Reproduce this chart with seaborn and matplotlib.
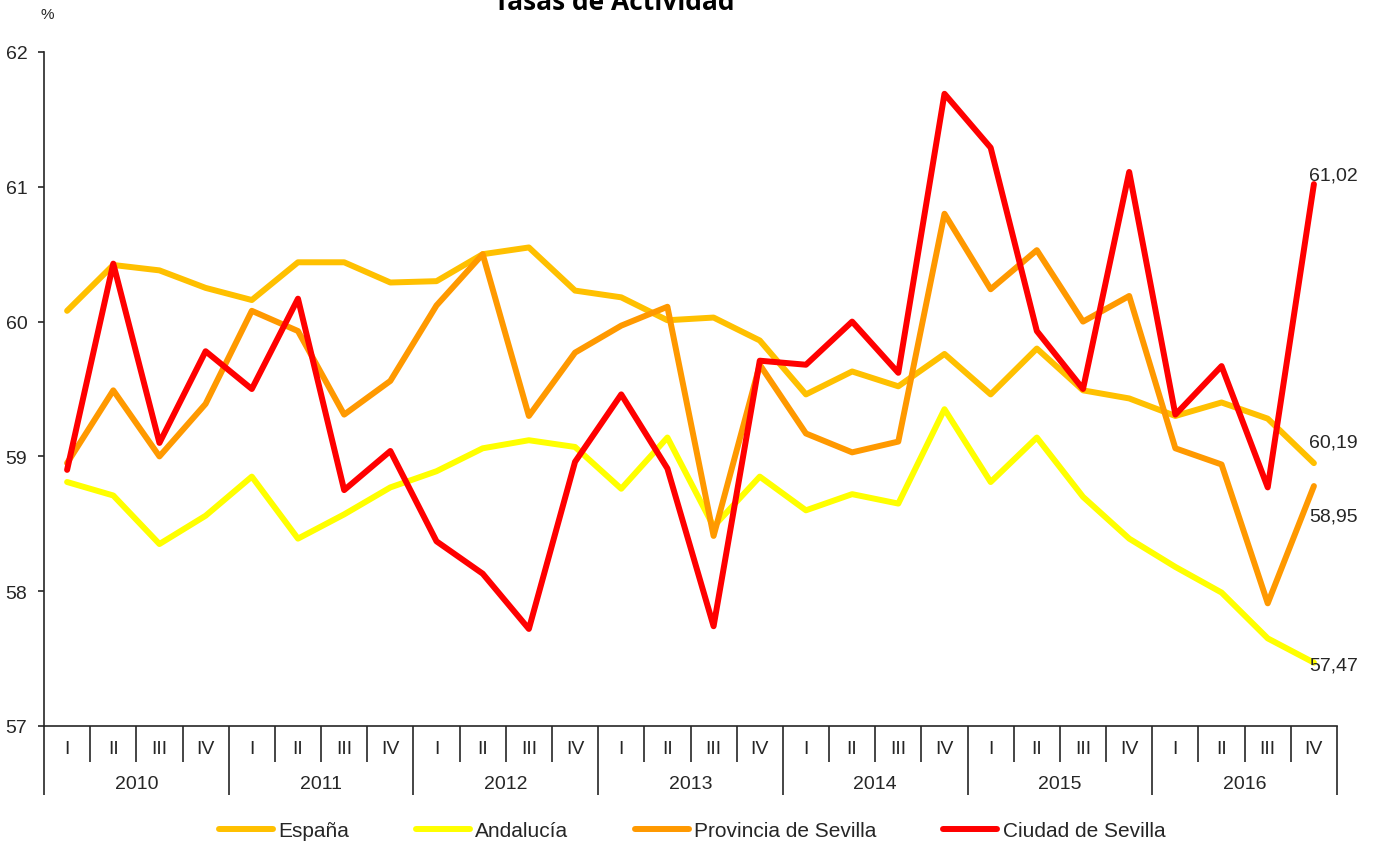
import numpy as np
import pandas as pd
import seaborn as sns
import matplotlib.pyplot as plt
from matplotlib.transforms import blended_transform_factory

# ─────────────────────────────────────────
# DATA
# ─────────────────────────────────────────
years    = ['2010', '2011', '2012', '2013', '2014', '2015', '2016']
quarters = ['I', 'II', 'III', 'IV']

espana = [60.08, 60.42, 60.38, 60.25, 60.16, 60.44, 60.44, 60.29,
          60.30, 60.50, 60.55, 60.23, 60.18, 60.01, 60.03, 59.86,
          59.46, 59.63, 59.52, 59.76, 59.46, 59.80, 59.49, 59.43,
          59.30, 59.40, 59.28, 58.95]
andalucia = [58.81, 58.71, 58.35, 58.56, 58.85, 58.39, 58.57, 58.77,
             58.89, 59.06, 59.12, 59.07, 58.76, 59.14, 58.48, 58.85,
             58.60, 58.72, 58.65, 59.35, 58.81, 59.14, 58.70, 58.39,
             58.18, 57.99, 57.65, 57.47]
provincia = [58.95, 59.49, 59.00, 59.39, 60.08, 59.93, 59.31, 59.56,
             60.12, 60.50, 59.30, 59.77, 59.97, 60.11, 58.41, 59.68,
             59.17, 59.03, 59.11, 60.80, 60.24, 60.53, 60.00, 60.19,
             59.06, 58.94, 57.91, 58.78]
ciudad = [58.90, 60.43, 59.10, 59.78, 59.50, 60.17, 58.75, 59.04,
          58.37, 58.13, 57.72, 58.96, 59.46, 58.91, 57.74, 59.71,
          59.68, 60.00, 59.62, 61.69, 61.29, 59.93, 59.50, 61.11,
          59.31, 59.67, 58.77, 61.02]

series_names = ['España', 'Andalucía', 'Provincia de Sevilla', 'Ciudad de Sevilla']
colors       = ['#FFC000', '#FFFF00', '#FF9900', '#FF0000']

end_labels   = ['61,02', '60,19', '58,95', '57,47']
end_label_y  = [61.09, 59.11, 58.56, 57.45]

# ─────────────────────────────────────────
# BUILD LONG TABLE
# ─────────────────────────────────────────
n = len(years) * len(quarters)
rows = []
for name, vals in zip(series_names, [espana, andalucia, provincia, ciudad]):
    for i, v in enumerate(vals):
        rows.append({'idx': i, 'valor': v, 'serie': name})
df = pd.DataFrame(rows)

# ─────────────────────────────────────────
# PLOT
# ─────────────────────────────────────────
sns.set_style('white')
plt.rcParams['font.family'] = ['Liberation Sans', 'DejaVu Sans']
txt = '#262626'

fig = plt.figure(figsize=(13.73, 8.45), dpi=100)
ax = fig.add_axes([44 / 1373, 1 - 727 / 845, 1293 / 1373, 674 / 845])

sns.lineplot(data=df, x='idx', y='valor', hue='serie', hue_order=series_names,
             palette=dict(zip(series_names, colors)), linewidth=4.3, ax=ax,
             legend=True)

ax.set_xlim(-0.5, n - 0.5)
ax.set_ylim(57, 62)
ax.set_yticks(range(57, 63))
ax.set_xlabel('')
ax.set_ylabel('')
for s in ['top', 'right']:
    ax.spines[s].set_visible(False)
for s in ['left', 'bottom']:
    ax.spines[s].set_color(txt)
    ax.spines[s].set_linewidth(1.2)

ax.tick_params(axis='y', direction='out', length=4, width=1.2, color=txt,
               labelsize=14, labelcolor=txt, pad=8, left=True)

# multi-level x axis: quarter separators (minor) and year separators (major)
ax.set_xticks(np.arange(-0.5, n, 4))
ax.set_xticks(np.arange(-0.5, n, 1), minor=True)
ax.set_xticklabels([])
ax.tick_params(axis='x', which='major', direction='out', length=50, width=1.2,
               color=txt, bottom=True)
ax.tick_params(axis='x', which='minor', direction='out', length=26, width=1.2,
               color=txt, bottom=True)

trans = blended_transform_factory(ax.transData, fig.transFigure)
for i in range(n):
    ax.text(i, 1 - 750 / 845, quarters[i % 4], transform=trans, ha='center',
            va='center', fontsize=14, color=txt)
for j, y in enumerate(years):
    ax.text(4 * j + 1.5, 1 - 785 / 845, y, transform=trans, ha='center',
            va='center', fontsize=14, color=txt)

# end-of-series value labels
for lab, yv in zip(end_labels, end_label_y):
    ax.text(n - 1.1, yv, lab, ha='left', va='center', fontsize=14, color=txt)

# titles
fig.text(614 / 1373, 1 - 10 / 845, 'Tasas de Actividad', ha='center',
         va='baseline', fontsize=19, fontweight='bold', family='Open Sans',
         color='black')
fig.text(47 / 1373, 1 - 15 / 845, '%', ha='center', va='center', fontsize=11,
         color=txt)

sns.move_legend(ax, 'center', bbox_to_anchor=(692 / 1373, 1 - 832 / 845),
                bbox_transform=fig.transFigure, ncol=4, frameon=False,
                title=None, fontsize=15, handlelength=2.6, handletextpad=0.25,
                columnspacing=3.2)
for line in ax.get_legend().get_lines():
    line.set_linewidth(4.3)
for t in ax.get_legend().get_texts():
    t.set_color(txt)

fig.savefig('out.png', dpi=100)
